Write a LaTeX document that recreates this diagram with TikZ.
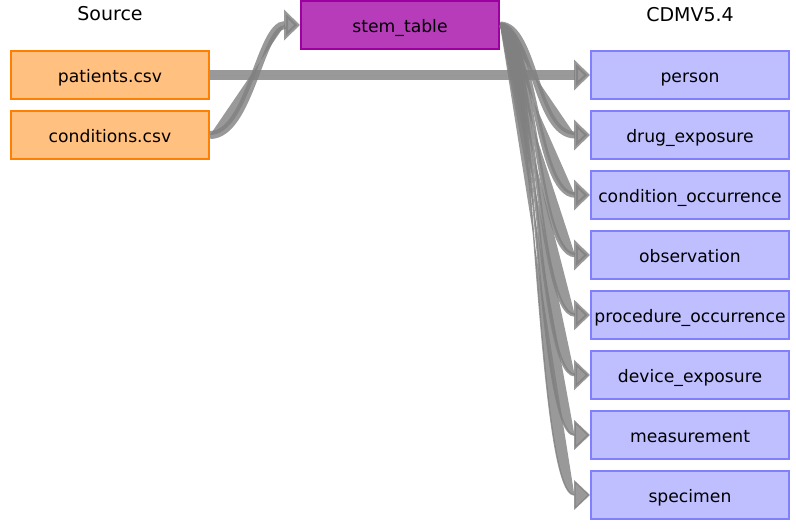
\documentclass[tikz,border=0pt]{standalone}
\usepackage{fontspec}
\setmainfont{DejaVu Sans}
\usetikzlibrary{arrows.meta,positioning}

\definecolor{srcfill}{HTML}{FFC080}
\definecolor{srcdraw}{HTML}{FF8000}
\definecolor{stemfill}{HTML}{B63CB9}
\definecolor{stemdraw}{HTML}{9C009F}
\definecolor{cdmfill}{HTML}{BFBFFF}
\definecolor{cdmdraw}{HTML}{8080FF}

\begin{document}
\begin{tikzpicture}[x=1pt,y=-1pt,>={Triangle[length=16pt,width=30pt]}]
	\tikzstyle{tbl}=[rectangle,line width=2pt,
	minimum width=198pt,minimum height=48pt,
	inner sep=0pt,text height=16pt,text depth=2pt,
	font=\fontsize{17.2}{19}\selectfont
	]
	\tikzstyle{title}=[anchor=base,font=\fontsize{19}{21}\selectfont];
	\tikzstyle{src}=[tbl, fill=srcfill, draw=srcdraw];
	\tikzstyle{stem}=[tbl, fill=stemfill, draw=stemdraw];
	\tikzstyle{cdm}=[tbl, fill=cdmfill, draw=cdmdraw];
	\tikzstyle{flow}=[->,draw=black!50,fill=black!50,opacity=0.8];
\useasboundingbox (0,0) rectangle (796,530);

\node[title] (srctitle) at (110,20){Source};
\node[title] (cdmtitle) at (690,21){CDMV5.4};

\node[src](patients) at (110,75){patients.csv};
\node[src](conditions) at (110,135){conditions.csv};
\node[stem](stemtbl) at (400,25){stem\_table};

\node[cdm](person) at (690,75){person};
\node[cdm](drug) at (690,135){drug\_exposure};
\node[cdm](condocc) at (690,195){condition\_occurrence};
\node[cdm](obs) at (690,255){observation};
\node[cdm](proc) at (690,315){procedure\_occurrence};
\node[cdm](device) at (690,375){device\_exposure};
\node[cdm](meas) at (690,435){measurement};
\node[cdm](spec) at (690,495){specimen};

% source -> stem / cdm
\draw [flow,line width=10pt] (patients.east) -- (person.west);
\draw [flow,line width=8pt] (conditions.east) .. controls +(40,0) and +(-40,0) .. (stemtbl.west);

% stem -> cdm
\draw [flow,line width=7pt] (stemtbl.east) .. controls +(35,0) and +(-55,0) .. (drug.west);
\draw [flow,line width=5.5pt] (stemtbl.east) .. controls +(35,0) and +(-55,0) .. (condocc.west);
\draw [flow,line width=4.5pt] (stemtbl.east) .. controls +(35,0) and +(-55,0) .. (obs.west);
\draw [flow,line width=3.5pt] (stemtbl.east) .. controls +(35,0) and +(-55,0) .. (proc.west);
\draw [flow,line width=3pt] (stemtbl.east) .. controls +(35,0) and +(-55,0) .. (device.west);
\draw [flow,line width=2pt] (stemtbl.east) .. controls +(35,0) and +(-55,0) .. (meas.west);
\draw [flow,line width=1.5pt] (stemtbl.east) .. controls +(35,0) and +(-55,0) .. (spec.west);

\end{tikzpicture}
\end{document}
